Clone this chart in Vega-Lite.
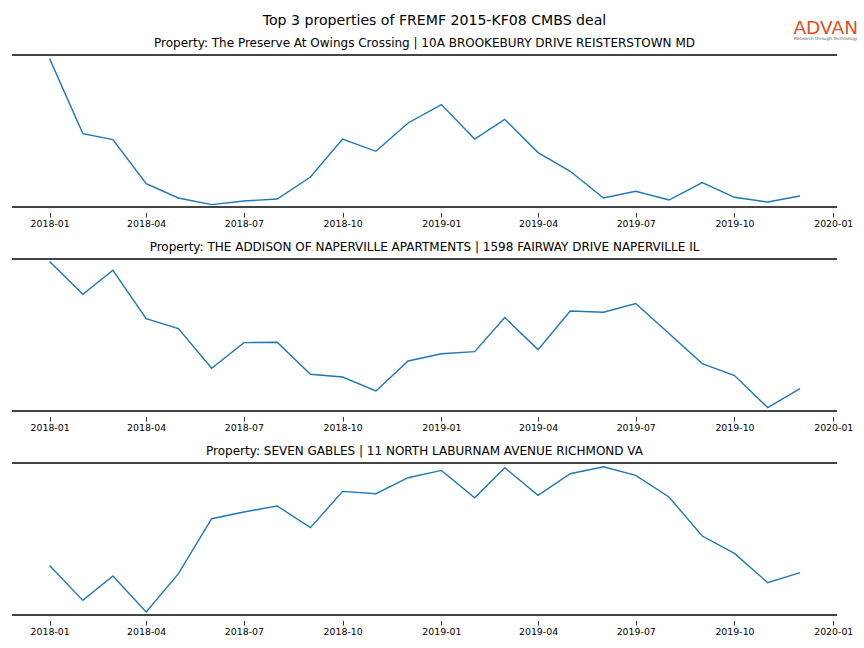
{
  "$schema": "https://vega.github.io/schema/vega-lite/v6.json",
  "background": "white",
  "padding": {"left": 11, "top": 13, "right": 0, "bottom": 0},
  "autosize": {"type": "pad"},
  "title": {"text": "Top 3 properties of FREMF 2015-KF08 CMBS deal", "fontSize": 14.1, "font": "DejaVu Sans", "fontWeight": "normal", "color": "black", "anchor": "middle", "offset": -9},
  "config": {
    "view": {"stroke": null},
    "font": "DejaVu Sans",
    "title": {"font": "DejaVu Sans", "fontSize": 12, "fontWeight": "normal", "color": "black", "offset": 4},
    "axisX": {"domain": false, "offset": 5.5, "tickSize": 4.5, "tickColor": "black", "tickWidth": 0.8, "labelFontSize": 9.4, "labelColor": "black", "labelFont": "DejaVu Sans", "grid": false, "labelPadding": 2, "title": null}
  },
  "datasets": {
    "p1": [
      {"date": "2018-01-01", "value": 148.4}, {"date": "2018-02-01", "value": 73.4}, {"date": "2018-03-01", "value": 67.4},
      {"date": "2018-04-01", "value": 23.4}, {"date": "2018-05-01", "value": 9.0}, {"date": "2018-06-01", "value": 2.4},
      {"date": "2018-07-01", "value": 6.0}, {"date": "2018-08-01", "value": 8.0}, {"date": "2018-09-01", "value": 30.0},
      {"date": "2018-10-01", "value": 68.0}, {"date": "2018-11-01", "value": 55.7}, {"date": "2018-12-01", "value": 84.0},
      {"date": "2019-01-01", "value": 102.4}, {"date": "2019-02-01", "value": 68.0}, {"date": "2019-03-01", "value": 87.7},
      {"date": "2019-04-01", "value": 54.4}, {"date": "2019-05-01", "value": 35.7}, {"date": "2019-06-01", "value": 9.0},
      {"date": "2019-07-01", "value": 15.7}, {"date": "2019-08-01", "value": 7.0}, {"date": "2019-09-01", "value": 24.4},
      {"date": "2019-10-01", "value": 9.7}, {"date": "2019-11-01", "value": 5.0}, {"date": "2019-12-01", "value": 11.0}
    ],
    "p2": [
      {"date": "2018-01-01", "value": 149.4}, {"date": "2018-02-01", "value": 116.7}, {"date": "2018-03-01", "value": 140.7},
      {"date": "2018-04-01", "value": 92.4}, {"date": "2018-05-01", "value": 82.4}, {"date": "2018-06-01", "value": 42.7},
      {"date": "2018-07-01", "value": 68.4}, {"date": "2018-08-01", "value": 68.7}, {"date": "2018-09-01", "value": 36.7},
      {"date": "2018-10-01", "value": 34.0}, {"date": "2018-11-01", "value": 20.0}, {"date": "2018-12-01", "value": 50.0},
      {"date": "2019-01-01", "value": 57.2}, {"date": "2019-02-01", "value": 59.4}, {"date": "2019-03-01", "value": 93.4},
      {"date": "2019-04-01", "value": 61.4}, {"date": "2019-05-01", "value": 100.0}, {"date": "2019-06-01", "value": 98.7},
      {"date": "2019-07-01", "value": 107.4}, {"date": "2019-08-01", "value": 77.4}, {"date": "2019-09-01", "value": 47.4},
      {"date": "2019-10-01", "value": 35.4}, {"date": "2019-11-01", "value": 3.4}, {"date": "2019-12-01", "value": 22.4}
    ],
    "p3": [
      {"date": "2018-01-01", "value": 49.6}, {"date": "2018-02-01", "value": 14.6}, {"date": "2018-03-01", "value": 39.0},
      {"date": "2018-04-01", "value": 3.0}, {"date": "2018-05-01", "value": 41.3}, {"date": "2018-06-01", "value": 96.3},
      {"date": "2018-07-01", "value": 103.0}, {"date": "2018-08-01", "value": 109.0}, {"date": "2018-09-01", "value": 87.3},
      {"date": "2018-10-01", "value": 123.6}, {"date": "2018-11-01", "value": 121.3}, {"date": "2018-12-01", "value": 137.3},
      {"date": "2019-01-01", "value": 144.6}, {"date": "2019-02-01", "value": 117.3}, {"date": "2019-03-01", "value": 147.3},
      {"date": "2019-04-01", "value": 119.6}, {"date": "2019-05-01", "value": 141.3}, {"date": "2019-06-01", "value": 148.3},
      {"date": "2019-07-01", "value": 139.6}, {"date": "2019-08-01", "value": 118.0}, {"date": "2019-09-01", "value": 79.0},
      {"date": "2019-10-01", "value": 61.6}, {"date": "2019-11-01", "value": 32.3}, {"date": "2019-12-01", "value": 42.3}
    ]
  },
  "spacing": 52,
  "bounds": "flush",
  "vconcat": [
    {
      "width": 825, "height": 152,
      "title": {"text": "Property: The Preserve At Owings Crossing | 10A BROOKEBURY DRIVE REISTERSTOWN MD", "dy": 35},
      "layer": [
        {"data": {"name": "p1"}, "mark": {"type": "line", "color": "#1f77b4", "strokeWidth": 1.4},
         "encoding": {
           "x": {"field": "date", "type": "temporal", "scale": {"domain": ["2017-11-27", "2020-01-04T12:00:00"], "nice": false},
                 "axis": {"values": ["2018-01-01", "2018-04-01", "2018-07-01", "2018-10-01", "2019-01-01", "2019-04-01", "2019-07-01", "2019-10-01", "2020-01-01"], "format": "%Y-%m", "labelOverlap": false}},
           "y": {"field": "value", "type": "quantitative", "scale": {"domain": [0, 152], "nice": false, "zero": false}, "axis": null}
         }},
        {"data": {"values": [{"k": 1}]}, "mark": {"type": "rule", "color": "#444444", "strokeWidth": 2}, "encoding": {"y": {"datum": 0, "type": "quantitative"}}},
        {"data": {"values": [{"k": 1}]}, "mark": {"type": "rule", "color": "#444444", "strokeWidth": 2}, "encoding": {"y": {"datum": 152, "type": "quantitative"}}},
        {"data": {"values": [{"t": "ADVAN"}]}, "mark": {"type": "text", "color": "#e0501f", "fontSize": 18.5, "font": "DejaVu Sans", "clip": false, "align": "center", "baseline": "middle"},
         "encoding": {"text": {"field": "t", "type": "nominal"}, "x": {"datum": {"year": 2019, "month": 12, "date": 25}, "type": "temporal"}, "y": {"datum": 179, "type": "quantitative"}}},
        {"data": {"values": [{"t": "Research through Technology"}]}, "mark": {"type": "text", "color": "#666666", "fontSize": 4.3, "font": "DejaVu Sans", "clip": false, "align": "center", "baseline": "middle"},
         "encoding": {"text": {"field": "t", "type": "nominal"}, "x": {"datum": {"year": 2019, "month": 12, "date": 25}, "type": "temporal"}, "y": {"datum": 168.5, "type": "quantitative"}}}
      ]
    },
    {
      "width": 825, "height": 152,
      "title": "Property: THE ADDISON OF NAPERVILLE APARTMENTS | 1598 FAIRWAY DRIVE NAPERVILLE IL",
      "layer": [
        {"data": {"name": "p2"}, "mark": {"type": "line", "color": "#1f77b4", "strokeWidth": 1.4},
         "encoding": {
           "x": {"field": "date", "type": "temporal", "scale": {"domain": ["2017-11-27", "2020-01-04T12:00:00"], "nice": false},
                 "axis": {"values": ["2018-01-01", "2018-04-01", "2018-07-01", "2018-10-01", "2019-01-01", "2019-04-01", "2019-07-01", "2019-10-01", "2020-01-01"], "format": "%Y-%m", "labelOverlap": false}},
           "y": {"field": "value", "type": "quantitative", "scale": {"domain": [0, 152], "nice": false, "zero": false}, "axis": null}
         }},
        {"data": {"values": [{"k": 1}]}, "mark": {"type": "rule", "color": "#444444", "strokeWidth": 2}, "encoding": {"y": {"datum": 0, "type": "quantitative"}}},
        {"data": {"values": [{"k": 1}]}, "mark": {"type": "rule", "color": "#444444", "strokeWidth": 2}, "encoding": {"y": {"datum": 152, "type": "quantitative"}}}
      ]
    },
    {
      "width": 825, "height": 152,
      "title": "Property: SEVEN GABLES | 11 NORTH LABURNAM AVENUE RICHMOND VA",
      "layer": [
        {"data": {"name": "p3"}, "mark": {"type": "line", "color": "#1f77b4", "strokeWidth": 1.4},
         "encoding": {
           "x": {"field": "date", "type": "temporal", "scale": {"domain": ["2017-11-27", "2020-01-04T12:00:00"], "nice": false},
                 "axis": {"values": ["2018-01-01", "2018-04-01", "2018-07-01", "2018-10-01", "2019-01-01", "2019-04-01", "2019-07-01", "2019-10-01", "2020-01-01"], "format": "%Y-%m", "labelOverlap": false}},
           "y": {"field": "value", "type": "quantitative", "scale": {"domain": [0, 152], "nice": false, "zero": false}, "axis": null}
         }},
        {"data": {"values": [{"k": 1}]}, "mark": {"type": "rule", "color": "#444444", "strokeWidth": 2}, "encoding": {"y": {"datum": 0, "type": "quantitative"}}},
        {"data": {"values": [{"k": 1}]}, "mark": {"type": "rule", "color": "#444444", "strokeWidth": 2}, "encoding": {"y": {"datum": 152, "type": "quantitative"}}}
      ]
    }
  ]
}
